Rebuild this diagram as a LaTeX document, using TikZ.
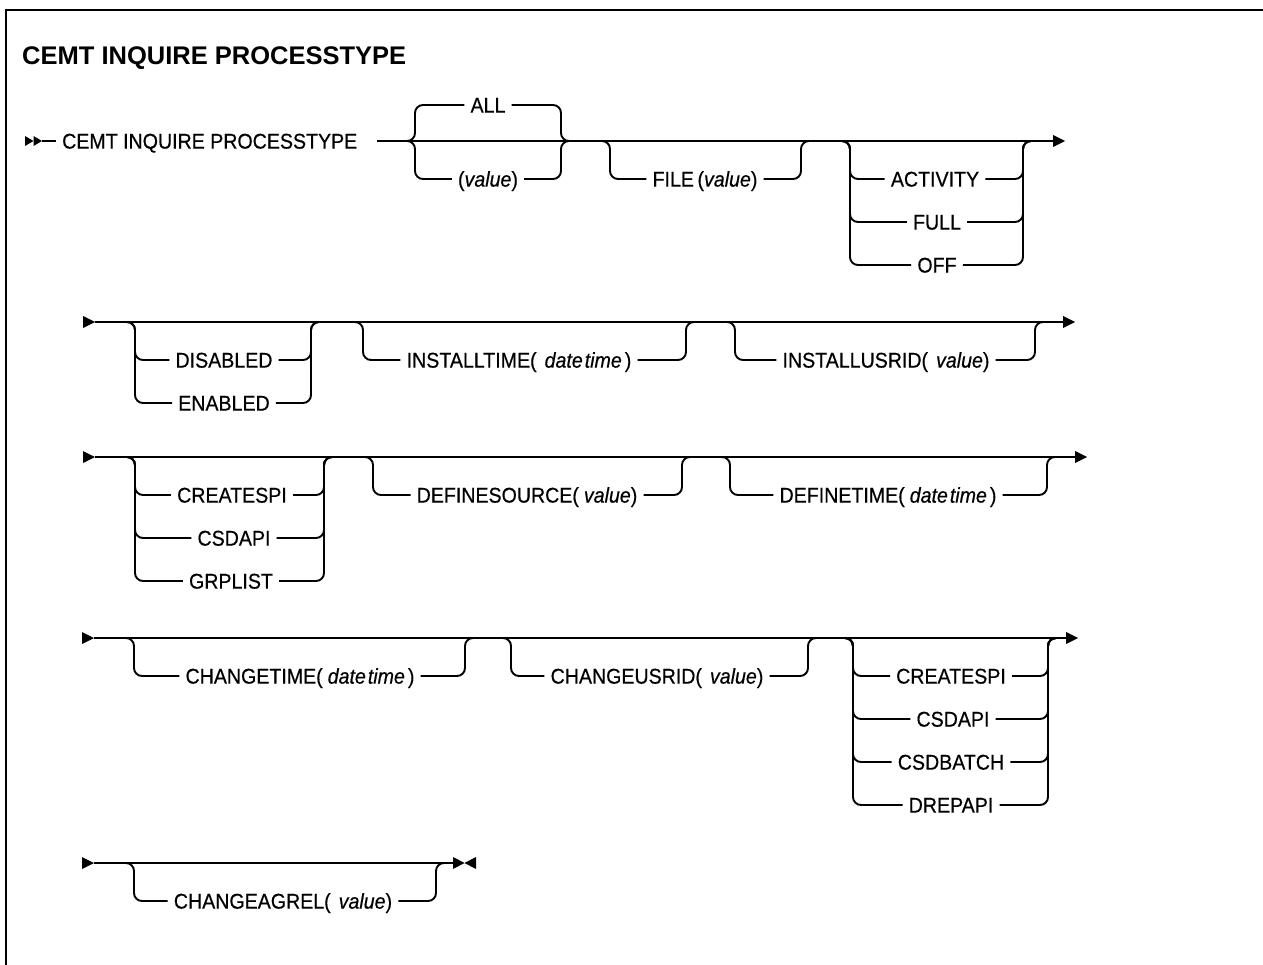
\documentclass[tikz,border=0pt]{standalone}
\usepackage{fontspec}
\setmainfont{Liberation Sans}
\newfontfamily\railfont{Liberation Sans}[FakeStretch=0.92,FakeBold=0.5]
\usetikzlibrary{calc}
\tikzset{
  rail/.style={line width=1.9pt, rounded corners=8pt},
  mainline/.style={line width=1.9pt},
  lbl/.style={font=\railfont\fontsize{21.3}{24}\selectfont, inner xsep=6pt, inner ysep=2pt, text height=15.2pt, text depth=0pt, anchor=center},
  ttl/.style={font=\bfseries\fontsize{25.5}{30}\selectfont, inner sep=0pt, anchor=west},
  frame/.style={line width=2.2pt}
}
\newcommand{\brL}[2]{\draw[rail] ([xshift=-12pt]#1) -- (#1) -- (#1 |- #2.west) -- (#2.west);}
\newcommand{\brR}[2]{\draw[rail] (#2.east) -- (#1 |- #2.east) -- (#1) -- ([xshift=12pt]#1);}
\newcommand{\rowStartTri}[1]{\fill (#1) -- ++(-12,-6) -- ++(0,12) -- cycle;}
\newcommand{\rowFinTri}[1]{\fill (#1) -- ++(0,-6) -- ++(12,6) -- ++(-12,6) -- cycle;}
\begin{document}
\begin{tikzpicture}[x=1pt,y=-1pt]
\useasboundingbox (0,0) rectangle (1263,965);
\draw[frame] (6,966) -- (6,10) -- (1264,10);

\node[ttl] (title) at (22,58) {CEMT INQUIRE PROCESSTYPE};

% ---------- Row 1 ----------
\coordinate (r1s) at (42,141);
\fill (r1s) -- ++(-8.5,-5) -- ++(0,10) -- cycle;
\fill ([xshift=-8.5pt]r1s) -- ++(-8.5,-5) -- ++(0,10) -- cycle;
\node[lbl, anchor=west] (cemt) at (56,141) {CEMT INQUIRE PROCESSTYPE};
\draw[mainline] (r1s) -- (cemt.west);
\coordinate (r1a) at (377,141);
\coordinate (r1e) at (1053,141);
\draw[mainline] (r1a) -- (r1e);
\rowFinTri{r1e}

\coordinate (g1l) at (415,141); \coordinate (g1r) at (561,141);
\node[lbl] (all) at (488,105) {ALL};
\node[lbl] (val) at (488,179) {(\textit{value})};
\brL{g1l}{all}\brL{g1l}{val}\brR{g1r}{all}\brR{g1r}{val}

\coordinate (g2l) at (610,141); \coordinate (g2r) at (801,141);
\node[lbl] (file) at (705,179) {FILE\,(\textit{value})};
\brL{g2l}{file}\brR{g2r}{file}

\coordinate (g3l) at (850,141); \coordinate (g3r) at (1023,141);
\node[lbl] (act) at (935,179) {ACTIVITY};
\node[lbl] (full) at (937,222) {FULL};
\node[lbl] (off) at (937,265) {OFF};
\brL{g3l}{act}\brL{g3l}{full}\brL{g3l}{off}
\brR{g3r}{act}\brR{g3r}{full}\brR{g3r}{off}

% ---------- Row 2 ----------
\coordinate (r2s) at (95,322); \coordinate (r2e) at (1063,322);
\rowStartTri{r2s}
\draw[mainline] (r2s) -- (r2e);
\rowFinTri{r2e}

\coordinate (g4l) at (135,322); \coordinate (g4r) at (311,322);
\node[lbl] (dis) at (224,360) {DISABLED};
\node[lbl] (ena) at (224,403) {ENABLED};
\brL{g4l}{dis}\brL{g4l}{ena}\brR{g4r}{dis}\brR{g4r}{ena}

\coordinate (g5l) at (363,322); \coordinate (g5r) at (686,322);
\node[lbl] (itime) at (519,360) {INSTALLTIME(\hspace{8pt}\textit{date\hspace{2pt}time}\hspace{3pt})};
\brL{g5l}{itime}\brR{g5r}{itime}

\coordinate (g6l) at (735,322); \coordinate (g6r) at (1035,322);
\node[lbl] (iusr) at (886,360) {INSTALLUSRID(\hspace{8pt}\textit{value})};
\brL{g6l}{iusr}\brR{g6r}{iusr}

% ---------- Row 3 ----------
\coordinate (r3s) at (95,457); \coordinate (r3e) at (1075,457);
\rowStartTri{r3s}
\draw[mainline] (r3s) -- (r3e);
\rowFinTri{r3e}

\coordinate (g7l) at (135,457); \coordinate (g7r) at (324,457);
\node[lbl] (crs) at (232,495) {CREATESPI};
\node[lbl] (csd) at (234,538) {CSDAPI};
\node[lbl] (grp) at (231,581) {GRPLIST};
\brL{g7l}{crs}\brL{g7l}{csd}\brL{g7l}{grp}
\brR{g7r}{crs}\brR{g7r}{csd}\brR{g7r}{grp}

\coordinate (g8l) at (373,457); \coordinate (g8r) at (682,457);
\node[lbl] (dsrc) at (527,495) {DEFINESOURCE(\hspace{5pt}\textit{value})};
\brL{g8l}{dsrc}\brR{g8r}{dsrc}

\coordinate (g9l) at (730,457); \coordinate (g9r) at (1047,457);
\node[lbl] (dtime) at (888,495) {DEFINETIME(\hspace{5pt}\textit{date\hspace{2pt}time}\hspace{3pt})};
\brL{g9l}{dtime}\brR{g9r}{dtime}

% ---------- Row 4 ----------
\coordinate (r4s) at (94,638); \coordinate (r4e) at (1066,638);
\rowStartTri{r4s}
\draw[mainline] (r4s) -- (r4e);
\rowFinTri{r4e}

\coordinate (g10l) at (134,638); \coordinate (g10r) at (465,638);
\node[lbl] (ctime) at (300,676) {CHANGETIME(\hspace{5pt}\textit{date\hspace{2pt}time}\hspace{3pt})};
\brL{g10l}{ctime}\brR{g10r}{ctime}

\coordinate (g11l) at (511,638); \coordinate (g11r) at (808,638);
\node[lbl] (cusr) at (657,676) {CHANGEUSRID(\hspace{8pt}\textit{value})};
\brL{g11l}{cusr}\brR{g11r}{cusr}

\coordinate (g12l) at (853,638); \coordinate (g12r) at (1048,638);
\node[lbl] (crs2) at (951,676) {CREATESPI};
\node[lbl] (csd2) at (953,719) {CSDAPI};
\node[lbl] (csb) at (951,762) {CSDBATCH};
\node[lbl] (drep) at (951,805) {DREPAPI};
\brL{g12l}{crs2}\brL{g12l}{csd2}\brL{g12l}{csb}\brL{g12l}{drep}
\brR{g12r}{crs2}\brR{g12r}{csd2}\brR{g12r}{csb}\brR{g12r}{drep}

% ---------- Row 5 ----------
\coordinate (r5s) at (94,863); \coordinate (r5e) at (453,863);
\rowStartTri{r5s}
\draw[mainline] (r5s) -- (r5e);
\fill (r5e) -- ++(0,-6) -- ++(11.5,6) -- ++(-11.5,6) -- cycle;
\fill ([xshift=23pt]r5e) -- ++(0,-6) -- ++(-11.5,6) -- ++(11.5,6) -- cycle;

\coordinate (g13l) at (134,863); \coordinate (g13r) at (436,863);
\node[lbl] (cagr) at (283,901) {CHANGEAGREL(\hspace{8pt}\textit{value})};
\brL{g13l}{cagr}\brR{g13r}{cagr}
\end{tikzpicture}
\end{document}
